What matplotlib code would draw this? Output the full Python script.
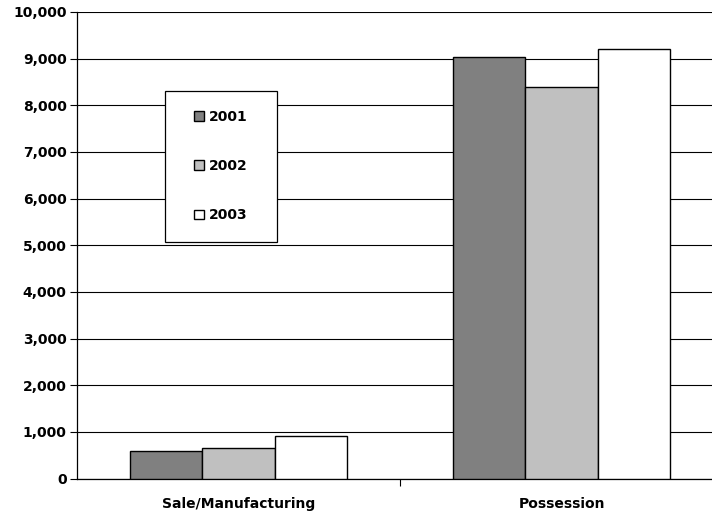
import numpy as np
import matplotlib
matplotlib.use('Agg')
import matplotlib.pyplot as plt
from matplotlib.patches import Rectangle
from matplotlib.ticker import FuncFormatter, MultipleLocator

# arrests by offence type
categories = ['Sale/Manufacturing', 'Possession']
years = ['2001', '2002', '2003']
vals_2001 = [590, 9040]
vals_2002 = [655, 8385]
vals_2003 = [912, 9205]
colors = ['#808080', '#c0c0c0', '#ffffff']

W, H = 712, 514
fig = plt.figure(figsize=(W / 100, H / 100), dpi=100)
ax = fig.add_axes([77 / W, 1 - 478.5 / H, 646 / W, 466.5 / H])

x = np.arange(len(categories))
bw = 0.223
series = [vals_2001, vals_2002, vals_2003]
for k, (yr, v, c) in enumerate(zip(years, series, colors)):
    ax.bar(x + (k - 1) * bw, v, bw, color=c, edgecolor='black',
           linewidth=1.0, label=yr, zorder=3)

ax.set_xlim(-0.5, 1.5)
ax.set_ylim(0, 10000)
ax.yaxis.set_major_locator(MultipleLocator(1000))
ax.yaxis.set_major_formatter(FuncFormatter(lambda v, p: f'{int(v):,}'))
ax.grid(axis='y', color='black', linewidth=0.8, zorder=0)

ax.set_xticks(x)
ax.set_xticklabels(categories)
ax.set_xticks([0.5, 1.5], minor=True)
ax.tick_params(axis='x', which='major', length=0, pad=13)
ax.tick_params(axis='x', which='minor', length=5, width=0.8, direction='out')
ax.tick_params(axis='y', length=5, width=0.8, direction='out', pad=2.5)
for lab in ax.get_xticklabels() + ax.get_yticklabels():
    lab.set_fontweight('bold')
    lab.set_fontsize(10)

for s in ['top', 'right']:
    ax.spines[s].set_visible(False)
ax.spines['left'].set_linewidth(0.9)
ax.spines['bottom'].set_linewidth(0.9)

# legend box drawn separately so it can be wider than its content
box = Rectangle((165 / W, 1 - 242 / H), 112 / W, 151 / H, transform=fig.transFigure,
                facecolor='white', edgecolor='black', linewidth=0.9, zorder=5)
fig.add_artist(box)
leg = fig.legend(loc='center', bbox_to_anchor=(221 / W, 1 - 166 / H),
                 frameon=False, prop={'weight': 'bold', 'size': 10},
                 handlelength=0.7, handleheight=0.7, handletextpad=0.4,
                 labelspacing=2.55)
leg.set_zorder(6)

fig.savefig('out.png', dpi=100)
